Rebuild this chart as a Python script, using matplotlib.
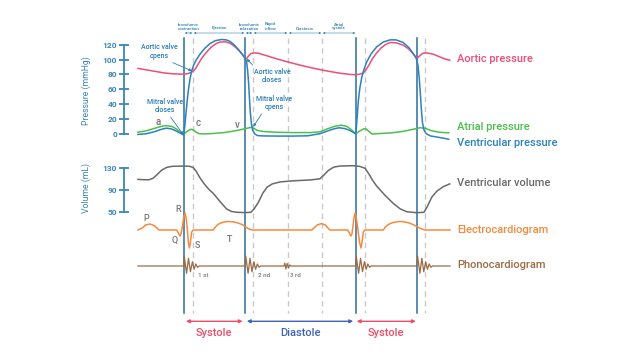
import numpy as np
import matplotlib
matplotlib.use('Agg')
import matplotlib.pyplot as plt

plt.rcParams['font.family'] = ['Roboto', 'DejaVu Sans']
plt.rcParams['font.weight'] = 'medium'

# time in ms (one cardiac cycle ~ 800 ms)
valve_lines = [214, 498, 1014, 1298]          # solid lines: mitral closes / aortic closes
phase_lines = [256, 535, 698, 856, 1056, 1335]  # dashed lines
phase_edges = [214, 256, 498, 535, 698, 856, 1014]
phase_names = ['Isovolumic\ncontraction', 'Ejection', 'Isovolumic\nrelaxation',
               'Rapid\ninflow', 'Diastasis', 'Atrial\nsystole']

# aortic pressure (mmHg)
aortic_t = [0, 40, 80, 120, 160, 200, 225, 240, 256, 268, 280, 295, 310, 325, 340, 360,
            381, 405, 428, 450, 470, 485, 498, 505, 515, 525, 540, 560, 600, 650, 700,
            760, 820, 880, 940, 990, 1014, 1035, 1048, 1060, 1075, 1090, 1110, 1130,
            1150, 1172, 1200, 1233, 1260, 1280, 1298, 1310, 1325, 1340, 1370, 1400,
            1430, 1450]
aortic_p = [88, 86, 84, 82, 80.8, 80.3, 80.6, 81.8, 84, 88, 94, 101, 107, 112, 116.5, 121,
            123.5, 124, 122, 117.5, 112, 107, 102, 101.2, 105, 108, 109, 108.5, 105, 100.5,
            96.5, 92, 88, 84.5, 81.5, 79.8, 79.5, 80.5, 82, 86, 93, 101, 109, 115.5,
            120, 123, 122.5, 119.5, 114, 107.5, 101.5, 105, 108.5, 109, 107.5, 104,
            100.5, 99]

# left ventricular pressure (mmHg)
ventr_t = [0, 40, 80, 110, 133, 155, 175, 195, 211, 215, 219, 224, 229, 235, 242, 250,
           257, 270, 288, 310, 335, 360, 389, 410, 428, 450, 470, 485, 498, 505, 510,
           514, 518, 522, 527, 533, 542, 555, 580, 650, 720, 790, 846, 880, 910, 935,
           960, 985, 1005, 1013, 1016, 1020, 1025, 1032, 1040, 1050, 1064, 1085, 1110,
           1140, 1172, 1200, 1233, 1260, 1280, 1295, 1302, 1308, 1313, 1318, 1323,
           1330, 1340, 1360, 1390, 1420, 1445]
ventr_p = [-1, 0, 3, 6, 7.5, 6.5, 4, 1, -1.5, 3, 14, 30, 45, 60, 74, 85,
           91, 99, 107, 115, 121.5, 125.5, 127, 126.5, 124.5, 119, 112.5, 107, 101.5, 97, 85,
           70, 50, 30, 15, 5, 0, -2.5, -3, -3.2, -3.2, -2.8, 0, 3.5, 6.5, 8,
           7, 4.5, 1, -0.5, 10, 25, 45, 62, 75, 86, 97, 108, 117,
           123.5, 126.5, 126.5, 123, 116, 108, 101, 92, 75, 55, 32, 15,
           5, 0, -3, -4.5, -6, -7.5]

# left atrial pressure (mmHg)
atrial_t = [0, 40, 80, 110, 135, 160, 180, 198, 211, 222, 235, 248, 258, 270, 285, 310,
            350, 400, 440, 480, 510, 528, 540, 555, 580, 640, 720, 800, 846, 880, 915,
            945, 970, 990, 1005, 1013, 1030, 1050, 1060, 1075, 1088, 1110, 1172, 1230,
            1280, 1310, 1335, 1360, 1390, 1420, 1445]
atrial_p = [2, 4, 7.5, 10, 11, 9.5, 6, 2, -1.5, 1.5, 4.5, 6, 5, 2, 0, -0.3,
            0.3, 1.5, 3.3, 5.5, 7.5, 8.7, 7, 4.5, 3, 2, 1.5, 1.5, 2.5, 6.5, 10,
            11.5, 10, 6, 2, 0, 3.5, 6.5, 6.5, 3, -0.5, 0, 1, 3,
            6, 8, 7.5, 4.5, 2.5, 1.5, 1.3]

# ventricular volume (mL)
volume_t = [0, 25, 50, 70, 90, 110, 133, 160, 211, 240, 256, 270, 288, 310, 330, 350,
            380, 412, 435, 459, 498, 525, 540, 560, 580, 600, 625, 661, 723, 800, 846,
            865, 885, 910, 940, 1000, 1030, 1056, 1075, 1090, 1110, 1150, 1187, 1220,
            1250, 1296, 1330, 1345, 1366, 1390, 1420, 1450]
volume_v = [109, 108.5, 108.3, 111, 118, 125.5, 130.5, 132.5, 133, 132.5, 130.5, 124, 112, 100, 91, 84,
            70, 56, 51.5, 50, 49.5, 50, 56, 68, 84, 95, 101, 104.5, 106.5, 108, 110,
            117, 125, 131, 133, 133.5, 132.5, 129, 118, 108, 97, 80, 66, 56,
            51, 49.3, 50, 60, 77, 88, 96, 101]

# electrocardiogram (mV)
ecg_t = [0, 20, 35, 56, 75, 90, 98, 180, 188, 195, 200, 207, 213, 219, 224, 229, 234, 239,
         244, 250, 257, 350, 360, 372, 390, 410, 435, 460, 485, 505, 520, 530, 808, 820,
         835, 854, 872, 885, 893, 975, 983, 990, 995, 1000, 1005, 1010, 1015, 1022, 1030,
         1037, 1042, 1048, 1055, 1141, 1150, 1165, 1185, 1210, 1230, 1255, 1280, 1305,
         1325, 1335, 1451]
ecg_mv = [0, 0.1, 0.25, 0.3, 0.22, 0.08, 0, 0, -0.15, -0.3, -0.2, 0.2, 0.65, 0.85, 0.6, 0.1, -0.6, -0.9,
          -0.6, -0.1, 0, 0, 0.15, 0.28, 0.37, 0.42, 0.42, 0.37, 0.27, 0.12, 0.03, 0, 0, 0.12,
          0.26, 0.32, 0.24, 0.08, 0, 0, -0.15, -0.3, -0.2, 0.2, 0.65, 0.85, 0.6, 0.1, -0.6,
          -0.9, -0.6, -0.1, 0, 0, 0.15, 0.28, 0.37, 0.42, 0.42, 0.37, 0.27, 0.12,
          0.03, 0, 0]

# phonocardiogram (arbitrary units)
phono_t = [0, 213, 215, 226, 235, 244, 253, 261, 269, 277, 284,
           499, 501, 512, 521, 530, 539, 547, 555, 563, 570,
           679, 683, 688, 694, 700, 706, 711,
           1012, 1015, 1026, 1035, 1044, 1053, 1061, 1069, 1077, 1084,
           1297, 1300, 1311, 1320, 1329, 1338, 1346, 1354, 1362, 1369, 1451]
phono_a = [0, 0, 10, -7.3, 7.7, -5.7, 4.3, -3.3, 2, -1.3, 0,
           0, 10, -7.3, 7.7, -5.7, 4.3, -3.3, 2, -1.3, 0,
           0, 3, -3, 2.5, -2, 1, 0,
           0, 10, -7.3, 7.7, -5.7, 4.3, -3.3, 2, -1.3, 0,
           0, 10, -7.3, 7.7, -5.7, 4.3, -3.3, 2, -1.3, 0, 0]
sound_names = ['1 st', '2 nd', '3 rd']
sound_t = [280, 560, 707]

periods = ['Systole', 'Diastole', 'Systole']
period_span = [(223, 487), (506, 1001), (1017, 1292)]

# colours
c_axis = '#3a86b8'
c_aortic = '#ee4d77'
c_ventr = '#2b82c0'
c_atrial = '#4cbf4c'
c_vol = '#6a6a6a'
c_ecg = '#f58a3c'
c_phono = '#9c6b45'
c_text = '#2b7fb5'
c_letter = '#777777'
c_sys = '#ee4d6a'
c_dia = '#4062b8'

fig = plt.figure(figsize=(6.36, 3.6), dpi=100)
L, W = 124 / 636, 326 / 636
xlim = (-65, 1451)
label_x = 1484

# overlay axes in pixel rows for the guide lines and phase arrows
ov = fig.add_axes([L, 0, W, 1])
ov.set_xlim(xlim)
ov.set_ylim(360, 0)
ov.axis('off')
for t in phase_lines:
    ov.plot([t, t], [38, 313], color='#c9c9c9', lw=1.0, ls=(0, (4, 3)))
for t in valve_lines:
    ov.plot([t, t], [38, 313], color='#2c6e9c', lw=1.1, zorder=5)

# phase names and small arrows along the top
for i, name in enumerate(phase_names):
    a, b = phase_edges[i], phase_edges[i + 1]
    ov.text((a + b) / 2, 30.5, name, ha='center', va='bottom', fontsize=3.2,
            color=c_text, linespacing=1.0)
    ov.annotate('', xy=(a + 4, 33), xytext=(b - 4, 33),
                arrowprops=dict(arrowstyle='<|-|>', color=c_text, lw=0.4,
                                mutation_scale=2.5, shrinkA=0, shrinkB=0))

# systole / diastole arrows at the bottom
for name, (a, b) in zip(periods, period_span):
    col = c_sys if name == 'Systole' else c_dia
    ov.annotate('', xy=(a, 321.3), xytext=(b, 321.3),
                arrowprops=dict(arrowstyle='<|-|>', color=col, lw=1.0,
                                mutation_scale=5, shrinkA=0, shrinkB=0))
    ov.text((a + b) / 2, 332.5, name, ha='center', va='center', fontsize=8,
            color=col)


def side_axis(ax, lo, hi, ticks, label):
    ax.set_xlim(xlim)
    for s in ['top', 'right', 'bottom']:
        ax.spines[s].set_visible(False)
    ax.spines['left'].set_bounds(lo, hi)
    ax.spines['left'].set_color(c_axis)
    ax.spines['left'].set_linewidth(1.3)
    ax.set_xticks([])
    ax.set_yticks(ticks)
    ax.tick_params(axis='y', direction='inout', length=7, width=1.3, colors=c_axis,
                   labelsize=6, pad=1.5)
    for lab in ax.get_yticklabels():
        lab.set_fontweight('bold')
    ax.set_ylabel(label, color=c_axis, fontsize=6.2)
    ax.patch.set_alpha(0)


# pressure panel
axp = fig.add_axes([L, 0.608, W, 0.28844])
axp.set_ylim(-10, 130)
side_axis(axp, 0, 120, [0, 20, 40, 60, 80, 100, 120], 'Pressure (mmHg)')
axp.yaxis.set_label_coords((91.3 - 124) / 326, (141.12 - 91) / 103.84)
axp.plot(aortic_t, aortic_p, color=c_aortic, lw=1.1, clip_on=False)
axp.plot(atrial_t, atrial_p, color=c_atrial, lw=1.1, clip_on=False)
axp.plot(ventr_t, ventr_p, color=c_ventr, lw=1.1, clip_on=False)
axp.text(label_x, 100.7, 'Aortic pressure', color=c_aortic, fontsize=8, va='center')
axp.text(label_x, 9.0, 'Atrial pressure', color=c_atrial, fontsize=8, va='center')
axp.text(label_x, -12.5, 'Ventricular pressure', color=c_ventr, fontsize=8, va='center')

arrow_kw = dict(arrowstyle='-|>', color=c_text, lw=0.6, mutation_scale=4,
                shrinkA=0, shrinkB=0)
axp.annotate('Aortic valve\nopens', xy=(251, 84.5), xytext=(98, 110.8), ha='center',
             va='center', fontsize=5, color=c_text, linespacing=1.1,
             arrowprops=dict(relpos=(0.7, 0), **arrow_kw))
axp.annotate('Aortic valve\ncloses', xy=(505, 101), xytext=(623, 77.7), ha='center',
             va='center', fontsize=5, color=c_text, linespacing=1.1,
             arrowprops=dict(relpos=(0.05, 1), **arrow_kw))
axp.annotate('Mitral valve\ncloses', xy=(211, -1.5), xytext=(126, 37.3), ha='center',
             va='center', fontsize=5, color=c_text, linespacing=1.1,
             arrowprops=dict(relpos=(0.6, 0), **arrow_kw))
axp.annotate('Mitral valve\nopens', xy=(536, 9.4), xytext=(633, 41.4), ha='center',
             va='center', fontsize=5, color=c_text, linespacing=1.1,
             arrowprops=dict(relpos=(0.2, 0), **arrow_kw))
for s, t, p in [('a', 93, 16.2), ('c', 280, 14), ('v', 464, 11.7)]:
    axp.text(t, p, s, color=c_letter, fontsize=7, ha='center', va='center')

# volume panel
axv = fig.add_axes([L, 0.3948, W, 0.15486])
axv.set_ylim(40, 140)
side_axis(axv, 50, 130, [50, 90, 130], 'Volume (mL)')
axv.yaxis.set_label_coords((91.3 - 124) / 326, (217.875 - 188) / 55.75)
axv.plot(volume_t, volume_v, color=c_vol, lw=1.1, clip_on=False)
axv.text(label_x, 102.6, 'Ventricular volume', color=c_vol, fontsize=8, va='center')

# ECG
axe = fig.add_axes([L, 100 / 360, W, 60 / 360])
axe.set_xlim(xlim)
axe.set_ylim(-1.5, 1.5)
axe.axis('off')
axe.plot(ecg_t, ecg_mv, color=c_ecg, lw=1.1, clip_on=False)
axe.text(label_x, 0, 'Electrocardiogram', color=c_ecg, fontsize=8, va='center')
for s, t, v in [('P', 37, 0.585), ('R', 189, 1.03), ('Q', 173, -0.535),
                ('S', 276, -0.8), ('T', 428, -0.5)]:
    axe.text(t, v, s, color=c_letter, fontsize=6.5, ha='center', va='center')

# phonocardiogram
axs = fig.add_axes([L, 79 / 360, W, 30 / 360])
axs.set_xlim(xlim)
axs.set_ylim(-15, 15)
axs.axis('off')
axs.plot(phono_t, phono_a, color=c_phono, lw=0.9, clip_on=False)
axs.text(label_x, 1, 'Phonocardiogram', color=c_phono, fontsize=8, va='center')
for s, t in zip(sound_names, sound_t):
    axs.text(t, -9.7, s, color=c_letter, fontsize=4.5, ha='left', va='center')

plt.savefig('out.png', dpi=100)
